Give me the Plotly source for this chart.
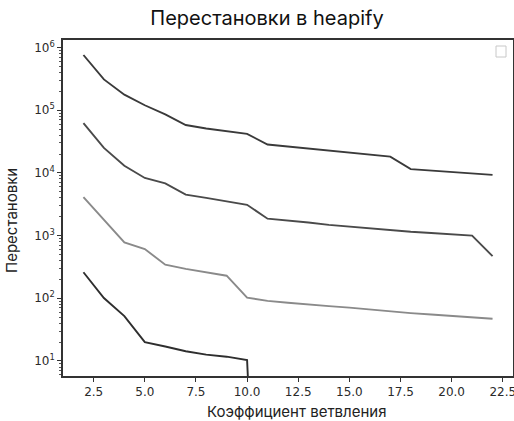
import plotly.graph_objects as go

x_vals = list(range(2, 23))

series_1 = [7.6e5, 3.1e5, 1.77e5, 1.2e5, 8.6e4, 5.8e4, 5.1e4, 4.6e4, 4.2e4, 2.83e4,
            2.63e4, 2.44e4, 2.27e4, 2.11e4, 1.96e4, 1.82e4, 1.15e4, 1.09e4, 1.035e4, 9.8e3, 9.3e3]
series_2 = [6.2e4, 2.5e4, 1.3e4, 8.3e3, 6.8e3, 4.5e3, 4.0e3, 3.55e3, 3.1e3, 1.86e3,
            1.74e3, 1.62e3, 1.48e3, 1.38e3, 1.29e3, 1.22e3, 1.15e3, 1.1e3, 1.05e3, 1.0e3, 4.7e2]
series_3 = [4.1e3, 1.8e3, 7.8e2, 6.1e2, 3.43e2, 2.95e2, 2.6e2, 2.29e2, 1.02e2, 91,
            85, 79, 75, 71, 66, 62, 58, 55, 52, 49, 47]
series_4 = [260, 101, 52, 20, 17, 14.3, 12.6, 11.7, 10.3, 0,
            0, 0, 0, 0, 0, 0, 0, 0, 0, 0, 0]

colors = ["#3a3a3a", "#4a4a4a", "#8a8a8a", "#2e2e2e"]
y_tick_vals = [10, 100, 1000, 10000, 100000, 1000000]
y_tick_text = ["10<sup>1</sup>", "10<sup>2</sup>", "10<sup>3</sup>",
               "10<sup>4</sup>", "10<sup>5</sup>", "10<sup>6</sup>"]
x_tick_vals = [2.5, 5.0, 7.5, 10.0, 12.5, 15.0, 17.5, 20.0, 22.5]
x_tick_text = ["2.5", "5.0", "7.5", "10.0", "12.5", "15.0", "17.5", "20.0", "22.5"]

CLIP = 1e-6  # non-positive values clipped like matplotlib's log scale


def clip(vals):
    return [v if v > 0 else CLIP for v in vals]


minor_vals = []
for e in range(0, 7):
    for m in range(2, 10):
        minor_vals.append(m * 10 ** e)

fig = go.Figure()
for s, c in zip([series_1, series_2, series_3, series_4], colors):
    fig.add_trace(go.Scatter(x=x_vals, y=clip(s), mode="lines",
                             line=dict(color=c, width=1.9), showlegend=False))

axis_common = dict(showgrid=False, zeroline=False, showline=True, linecolor="#333",
                   linewidth=1.5, mirror=True, ticks="outside", ticklen=4,
                   tickwidth=1, tickcolor="#333", automargin=False,
                   ticklabeloverflow="allow",
                   tickfont=dict(family="DejaVu Sans", size=12, color="#2a2a2a"))

fig.update_xaxes(range=[1, 23], tickvals=x_tick_vals, ticktext=x_tick_text, **axis_common)
fig.update_yaxes(type="log", range=[0.76, 6.12], tickvals=y_tick_vals, ticktext=y_tick_text,
                 minor=dict(tickvals=minor_vals, ticks="outside", ticklen=2,
                            tickcolor="#555", tickwidth=0.8),
                 **axis_common)

fig.update_layout(
    width=514, height=421,
    margin=dict(l=63, r=1, t=40, b=45),
    paper_bgcolor="white", plot_bgcolor="white",
    title=dict(text="Перестановки в heapify", x=267 / 514, xanchor="center",
               y=1 - 18 / 421, yanchor="middle",
               font=dict(family="Inter", size=20, color="#111")),
    annotations=[
        dict(text="Коэффициент ветвления", xref="paper", yref="paper",
             x=(297 - 63) / 450, y=-(411 - 376) / 336, showarrow=False,
             xanchor="center", yanchor="middle",
             font=dict(family="Inter", size=15, color="#222")),
        dict(text="Перестановки", xref="paper", yref="paper",
             x=(11 - 63) / 450, y=(376 - 221) / 336, showarrow=False, textangle=-90,
             xanchor="center", yanchor="middle",
             font=dict(family="Inter", size=15, color="#222")),
    ],
    shapes=[
        dict(type="rect", xref="paper", yref="paper",
             x0=(496 - 63) / 450, x1=(506 - 63) / 450,
             y0=(376 - 57) / 336, y1=(376 - 46) / 336,
             line=dict(color="#c8c8c8", width=1), fillcolor="white"),
    ],
)

fig.write_html("out.html")
